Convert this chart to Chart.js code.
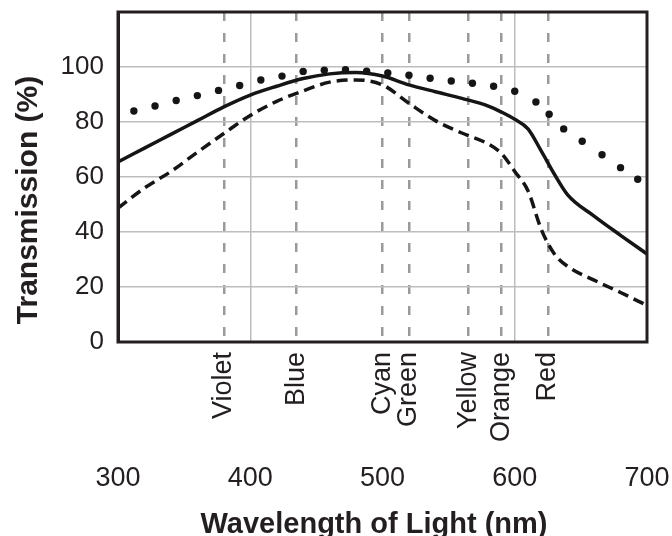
<!DOCTYPE html>
<html>
<head>
<meta charset="utf-8">
<script src="https://cdn.jsdelivr.net/npm/chart.js@4/dist/chart.umd.min.js"></script>
<style>
  body { margin: 0; background: #fff; }
</style>
</head>
<body>
<canvas id="chart" width="672" height="536"></canvas>
<script>
const wavelengths = [300, 320, 340, 360, 380, 400, 420, 440, 460, 480, 500, 520, 540, 560, 580, 590, 600, 610, 620, 630, 640, 660, 680, 700];
const solidT = [65.5, 70.5, 75.5, 80.5, 85.5, 89.8, 93, 95.8, 97.5, 98, 96.7, 93.5, 91, 88.6, 85.8, 83.6, 81, 77.5, 69.5, 61, 53.5, 45.8, 38.8, 32];
const dashedT = [48.7, 56, 62, 69, 75.8, 82.4, 87.5, 91.3, 94.5, 95.3, 93.5, 86.8, 80.5, 76, 72, 68.5, 62, 55, 41, 32, 27.5, 22.5, 18, 13.3];

// dotted curve is drawn as separate dots
const dotX = [312, 328, 344, 360, 376, 392, 408, 424, 440, 456, 472, 488, 504, 520, 536, 552, 568, 584, 600, 616, 626, 637, 651, 666, 680, 693];
const dotY = [84, 85.8, 87.8, 89.6, 91.5, 93.3, 95.3, 96.7, 98.4, 98.8, 99, 98.5, 97.8, 97, 95.9, 94.9, 94.1, 93, 91.2, 87.3, 82.8, 77.5, 73, 68.1, 63.4, 59.2];

// colour marks on the wavelength axis
const colorNames = ["Violet", "Blue", "Cyan", "Green", "Yellow", "Orange", "Red"];
const colorNm = [380, 435, 500, 520, 565, 590, 625];

const xTicks = [300, 400, 500, 600, 700];
const yTicks = [0, 20, 40, 60, 80, 100];

const xTitle = "Wavelength of Light (nm)";
const yTitle = "Transmission (%)";

const FONT = '"Liberation Sans", Arial, Helvetica, sans-serif';
const INK = '#231f20';

const framePlugin = {
    id: 'frame',
    afterDraw(chart) {
        const {ctx, chartArea: a} = chart;
        ctx.save();
        ctx.strokeStyle = INK;
        ctx.lineWidth = 3;
        ctx.strokeRect(a.left, a.top, a.right - a.left, a.bottom - a.top);
        ctx.fillStyle = INK;
        ctx.font = 'bold 29px ' + FONT;
        ctx.textAlign = 'center';
        ctx.textBaseline = 'alphabetic';
        ctx.fillText(xTitle, 374, 533);
        ctx.font = 'bold 30px ' + FONT;
        ctx.translate(37, 200);
        ctx.rotate(-Math.PI / 2);
        ctx.fillText(yTitle, 0, 0);
        ctx.restore();
    }
};

document.addEventListener('DOMContentLoaded', () => {
    const ctx = document.getElementById('chart').getContext('2d');
    new Chart(ctx, {
        type: 'line',
        data: {
            datasets: [
                {
                    label: 'solid',
                    data: wavelengths.map((w, i) => ({x: w, y: solidT[i]})),
                    borderColor: '#151515',
                    borderWidth: 3.5,
                    pointRadius: 0,
                    cubicInterpolationMode: 'monotone',
                    xAxisID: 'x',
                    yAxisID: 'y'
                },
                {
                    label: 'dashed',
                    data: wavelengths.map((w, i) => ({x: w, y: dashedT[i]})),
                    borderColor: '#151515',
                    borderWidth: 3.5,
                    borderDash: [11, 6],
                    pointRadius: 0,
                    cubicInterpolationMode: 'monotone',
                    xAxisID: 'x',
                    yAxisID: 'y'
                },
                {
                    label: 'dotted',
                    data: dotX.map((w, i) => ({x: w, y: dotY[i]})),
                    showLine: false,
                    pointRadius: 3.7,
                    pointBorderWidth: 0,
                    pointBackgroundColor: '#151515',
                    xAxisID: 'x',
                    yAxisID: 'y'
                }
            ]
        },
        options: {
            responsive: false,
            animation: false,
            devicePixelRatio: 1,
            layout: {padding: {top: 12, right: 25, bottom: 39, left: 0}},
            plugins: {
                legend: {display: false},
                tooltip: {enabled: false}
            },
            scales: {
                xc: {
                    type: 'linear',
                    position: 'bottom',
                    weight: 0,
                    min: 300,
                    max: 700,
                    afterBuildTicks: axis => { axis.ticks = colorNm.map(v => ({value: v})); },
                    afterFit: axis => { axis.height = 115; axis.paddingLeft = 0; axis.paddingRight = 0; },
                    ticks: {
                        autoSkip: false,
                        minRotation: 90,
                        maxRotation: 90,
                        padding: 10,
                        color: INK,
                        font: {family: FONT, size: 27},
                        callback: (v, i) => colorNames[i]
                    },
                    grid: {color: '#9a9a9a', lineWidth: 2.5, drawTicks: false},
                    border: {display: false, dash: [9, 12]}
                },
                x: {
                    type: 'linear',
                    position: 'bottom',
                    weight: 1,
                    min: 300,
                    max: 700,
                    afterBuildTicks: axis => { axis.ticks = xTicks.map(v => ({value: v})); },
                    afterFit: axis => { axis.height = 40; axis.paddingLeft = 0; axis.paddingRight = 0; },
                    ticks: {
                        padding: 5,
                        color: INK,
                        font: {family: FONT, size: 27}
                    },
                    grid: {
                        drawTicks: false,
                        lineWidth: 1.5,
                        color: c => (c.tick && (c.tick.value === 400 || c.tick.value === 600)) ? '#bdbdbd' : 'rgba(0,0,0,0)'
                    },
                    border: {display: false}
                },
                y: {
                    min: 0,
                    max: 120,
                    afterBuildTicks: axis => { axis.ticks = yTicks.map(v => ({value: v})); },
                    afterFit: axis => { axis.width = 118; axis.paddingTop = 0; axis.paddingBottom = 0; },
                    ticks: {
                        padding: 14,
                        color: INK,
                        font: {family: FONT, size: 26}
                    },
                    grid: {
                        drawTicks: false,
                        lineWidth: 1.5,
                        color: c => (c.tick && c.tick.value > 0) ? '#bdbdbd' : 'rgba(0,0,0,0)'
                    },
                    border: {display: true, color: INK, width: 3}
                }
            }
        },
        plugins: [framePlugin]
    });
});
</script>
</body>
</html>
